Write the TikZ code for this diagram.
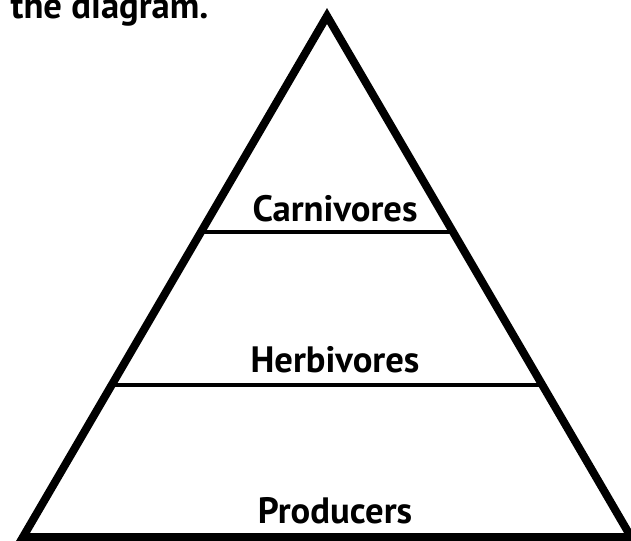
\documentclass[tikz,border=0pt]{standalone}
\usepackage{fontspec}
\setmainfont{PT Sans}
\usetikzlibrary{calc}

\begin{document}
\begin{tikzpicture}[x=0.75pt,y=-0.75pt,
		label/.style={font=\bfseries\fontsize{27.5}{32}\selectfont,anchor=base}]
		\useasboundingbox (0,0) rectangle (631,541);
		% Corners of the pyramid
		\coordinate (apex) at (327,16);
		\coordinate (left) at (23,537);
		\coordinate (right) at (631,537);

		% Levels, ends on the sides
		\coordinate (carnL) at ($(apex)!0.415!(left)$);
		\coordinate (carnR) at ($(apex)!0.415!(right)$);
		\coordinate (herbL) at ($(apex)!0.708!(left)$);
		\coordinate (herbR) at ($(apex)!0.708!(right)$);
		\draw[line width=3pt] (carnL) -- (carnR);
		\draw[line width=3pt] (herbL) -- (herbR);

		% Outline
		\draw[line width=6pt,line join=miter] (apex) -- (left) -- (right) -- cycle;

		% Labels
		\node[label] (carn) at (335,222) {Carnivores};
		\node[label] (herb) at (335,372) {Herbivores};
		\node[label] (prod) at (335,523) {Producers};
		\node[label,anchor=base west] (caption) at (6,19) {the diagram.};
	\end{tikzpicture}
\end{document}
